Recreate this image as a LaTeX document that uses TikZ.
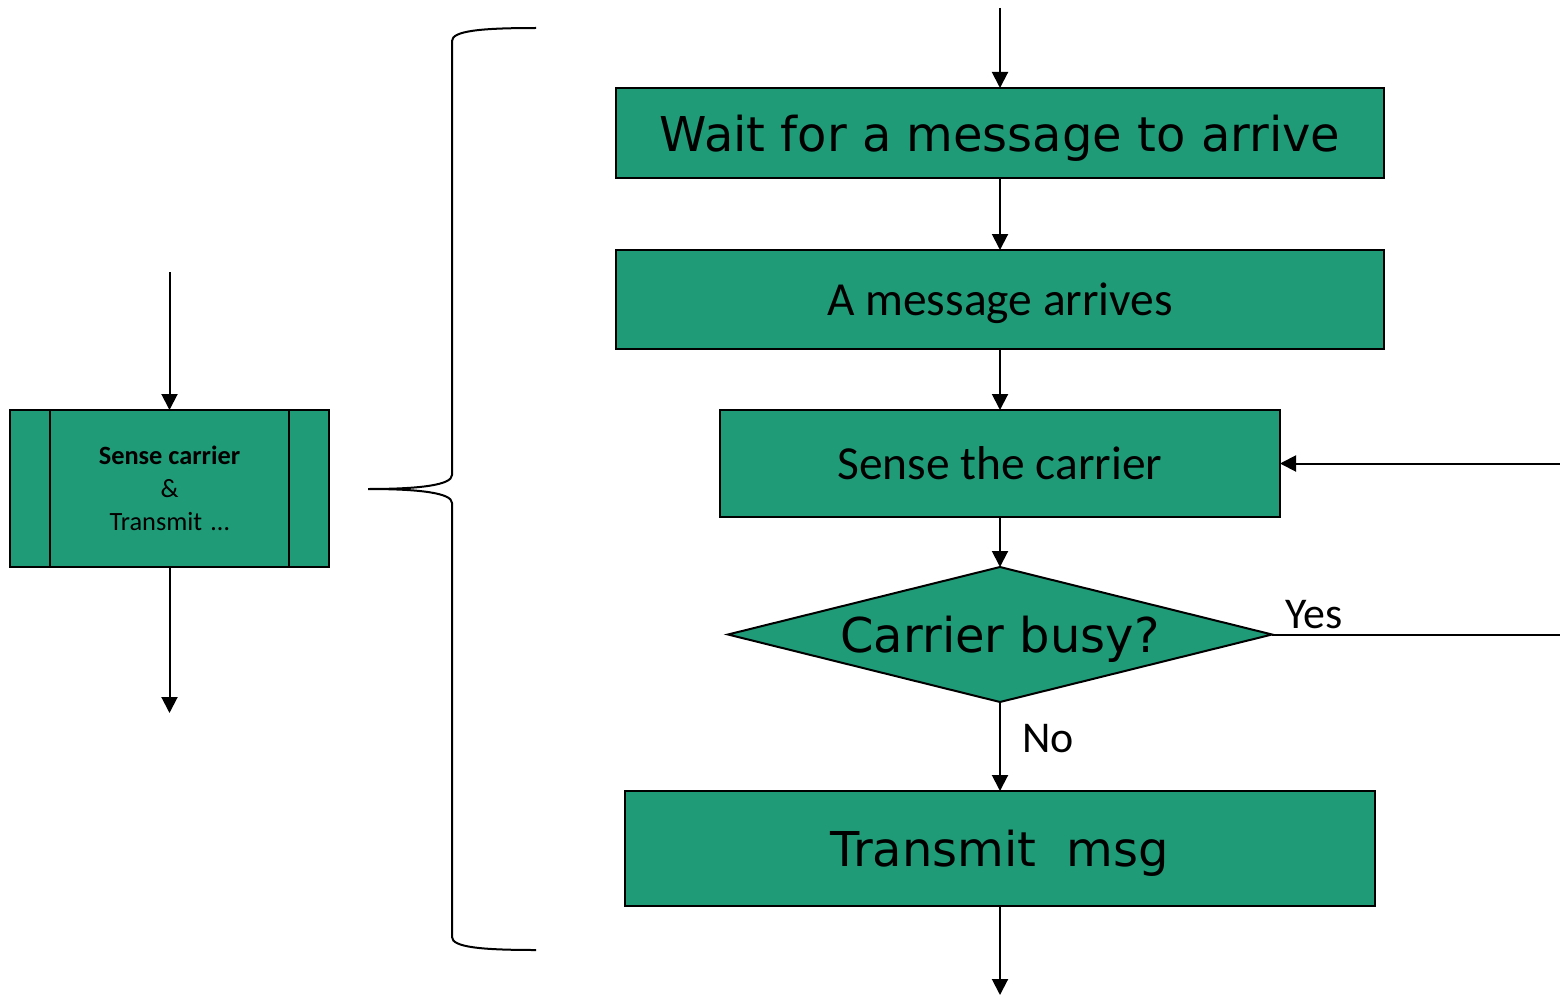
\documentclass[tikz,border=0pt]{standalone}
\usepackage{fontspec}
\usetikzlibrary{arrows.meta,positioning,shapes.geometric}
\newfontfamily\verdfont{DejaVu Sans}
\newfontfamily\calfont{Carlito}
\definecolor{flowgreen}{RGB}{31,155,120}

\begin{document}
\begin{tikzpicture}[->,>={Triangle[length=0.32cm,width=0.32cm]},line width=0.04cm,node distance=1.2cm]
        \tikzstyle{procbox}=[rectangle,draw=black,fill=flowgreen,text=black,inner sep=0pt,outer sep=0pt]
        \tikzstyle{decision}=[diamond,draw=black,fill=flowgreen,text=black,aspect=4,inner sep=0pt,outer sep=0pt,minimum width=10.88cm,minimum height=2.7cm]
        \tikzstyle{bigverd}=[font=\verdfont\fontsize{27.3}{32}\selectfont,text depth=0pt]
        \tikzstyle{bigcal}=[font=\calfont\fontsize{27}{32}\selectfont,text depth=0pt]
        \tikzstyle{answer}=[font=\calfont\fontsize{25}{30}\selectfont,inner sep=0pt,text=black]
        \useasboundingbox (0,0) rectangle (31.2,-19.92);

        \node[procbox,bigverd,minimum width=15.36cm,minimum height=1.8cm] (wait)     at (20,-2.66)           {Wait for a message to arrive};
        \node[procbox,bigcal,minimum width=15.36cm,minimum height=1.98cm] (arrives)  [below=1.44cm of wait]    {A message arrives};
        \node[procbox,bigcal,minimum width=11.2cm,minimum height=2.14cm]  (sense)    [below=1.22cm of arrives] {Sense the carrier};
        \node[decision,bigverd]                                           (busy)     [below=1cm of sense]      {Carrier busy?};
        \node[procbox,bigverd,minimum width=15cm,minimum height=2.3cm]    (transmit) [below=1.78cm of busy]    {Transmit\ \ msg};

        \node[procbox,minimum width=6.38cm,minimum height=3.14cm,align=center,font=\calfont\fontsize{15}{18.7}\selectfont]
              (sensetx) at (3.39,-9.77) {\textbf{Sense carrier}\\\&\\Transmit\,\,…};
        \draw[-] ([xshift=0.8cm]sensetx.north west) -- ([xshift=0.8cm]sensetx.south west);
        \draw[-] ([xshift=-0.8cm]sensetx.north east) -- ([xshift=-0.8cm]sensetx.south east);

        \coordinate (topin)     at (20,-0.16);
        \coordinate (bottomout) at (20,-19.9);
        \coordinate (lin)       at (3.39,-5.44);
        \coordinate (lout)      at (3.39,-14.26);
        \coordinate (yesend)    at (31.2,0 |- busy.east);
        \coordinate (retstart)  at (31.2,0 |- sense.east);

        \path (topin)    edge (wait)
              (wait)     edge (arrives)
              (arrives)  edge (sense)
              (sense)    edge (busy)
              (busy)     edge node[answer,anchor=base west,xshift=0.42cm,yshift=-0.11cm] {No} (transmit)
                         edge[-] node[answer,pos=0,anchor=base west,xshift=0.24cm,yshift=0.12cm] {Yes} (yesend)
              (retstart) edge (sense)
              (transmit) edge (bottomout)
              (lin)      edge (sensetx)
              (sensetx)  edge (lout);

        % brace
        \draw[-] (10.72,-0.56) .. controls (9.6,-0.56) and (9.04,-0.62) .. (9.04,-0.82) -- (9.04,-9.5)
              .. controls (9.04,-9.7) and (8.4,-9.78) .. (7.36,-9.78)
              .. controls (8.4,-9.78) and (9.04,-9.86) .. (9.04,-10.06) -- (9.04,-18.74)
              .. controls (9.04,-18.94) and (9.6,-19.0) .. (10.72,-19.0);
\end{tikzpicture}
\end{document}
